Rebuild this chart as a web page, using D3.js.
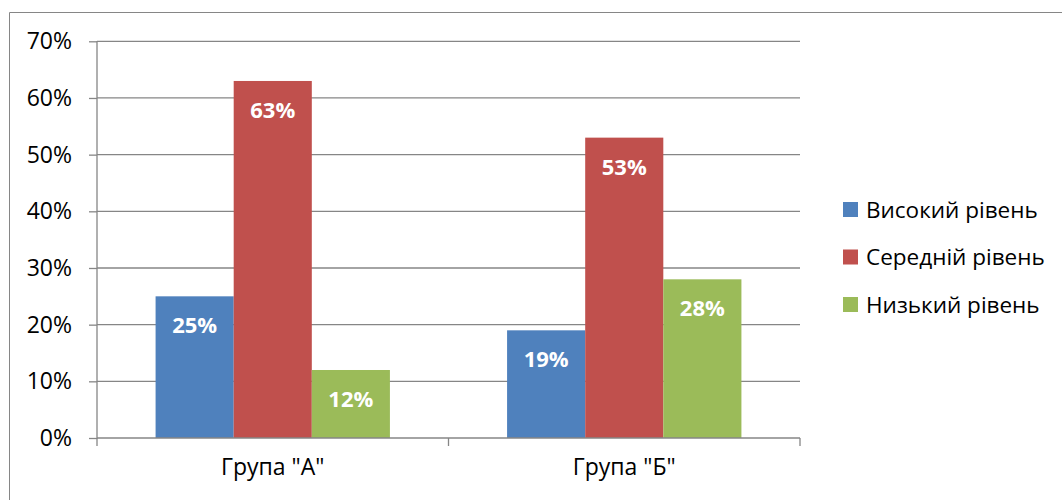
<!DOCTYPE html>
<html>
<head>
<meta charset="utf-8">
<script src="https://cdn.jsdelivr.net/npm/d3@7"></script>
<style>
  body { margin: 0; background: #fff; }
  svg { font-family: "Open Sans", "Noto Sans", sans-serif; }
</style>
</head>
<body>
<svg class="chart" width="1062" height="500"></svg>
<script>
var groups = ['Група "А"', 'Група "Б"'];
var seriesNames = ["Високий рівень", "Середній рівень", "Низький рівень"];
var seriesColors = ["#4F81BD", "#C0504D", "#9BBB59"];
var valuesHigh = [25, 19];
var valuesMid = [63, 53];
var valuesLow = [12, 28];
var yTicks = [0, 10, 20, 30, 40, 50, 60, 70];

var series = [valuesHigh, valuesMid, valuesLow];

var chart = d3.select("svg.chart"),
    plotLeft = 97, plotRight = 800, plotTop = 41.3, plotBottom = 438;

// outer chart border (only left and top visible)
chart.append("path")
  .attr("d", "M9.5,500V12.5H1062")
  .attr("fill", "none")
  .attr("stroke", "#868686")
  .attr("stroke-width", 1);

var yScale = d3.scaleLinear().domain([0, 70]).range([plotBottom, plotTop]);
var xScale = d3.scaleBand().domain(groups).range([plotLeft, plotRight]).paddingInner(0).paddingOuter(0);
var inner = d3.scaleBand().domain(d3.range(series.length))
  .range([0, xScale.bandwidth()]).paddingOuter(0.75).paddingInner(0);

// gridlines
chart.append("g")
  .selectAll("line")
  .data(yTicks.slice(1))
  .enter()
  .append("line")
  .attr("x1", plotLeft).attr("x2", plotRight)
  .attr("y1", function(d) { return yScale(d); })
  .attr("y2", function(d) { return yScale(d); })
  .attr("stroke", "#868686")
  .attr("stroke-width", 1.3);

// bars
series.forEach(function(vals, s) {
  chart.append("g")
    .selectAll("rect")
    .data(vals)
    .enter()
    .append("rect")
    .attr("x", function(d, i) { return xScale(groups[i]) + inner(s); })
    .attr("width", inner.bandwidth())
    .attr("y", function(d) { return yScale(d); })
    .attr("height", function(d) { return plotBottom - yScale(d); })
    .attr("fill", seriesColors[s]);

  chart.append("g")
    .selectAll("text")
    .data(vals)
    .enter()
    .append("text")
    .attr("x", function(d, i) { return xScale(groups[i]) + inner(s) + inner.bandwidth() / 2; })
    .attr("y", function(d) { return yScale(d) + 37; })
    .attr("text-anchor", "middle")
    .attr("fill", "#fff")
    .attr("font-weight", "bold")
    .attr("font-size", 22)
    .text(function(d) { return d + "%"; });
});

// y axis
var yAxis = d3.axisLeft(yScale).tickValues(yTicks).tickSize(8).tickPadding(17)
  .tickFormat(function(d) { return d + "%"; });
var yG = chart.append("g").attr("transform", "translate(" + plotLeft + ",0)").call(yAxis);
yG.select(".domain").remove();
yG.append("line").attr("x1", 0).attr("x2", 0).attr("y1", plotTop).attr("y2", plotBottom + 0.5)
  .attr("stroke", "#868686").attr("stroke-width", 1.3);
yG.selectAll(".tick line").attr("stroke", "#868686").attr("stroke-width", 1.3);
yG.selectAll(".tick text").attr("font-size", 23).attr("fill", "#000")
  .attr("font-family", "'Open Sans', sans-serif");

// x axis
var xAxis = d3.axisBottom(xScale).tickSize(0).tickPadding(21);
var xG = chart.append("g").attr("transform", "translate(0," + plotBottom + ")").call(xAxis);
xG.select(".domain").remove();
xG.append("line").attr("x1", plotLeft).attr("x2", plotRight).attr("y1", 0).attr("y2", 0)
  .attr("stroke", "#868686").attr("stroke-width", 1.3);
xG.selectAll(".sep")
  .data([plotLeft, plotLeft + xScale.bandwidth(), plotRight])
  .enter()
  .append("line")
  .attr("x1", function(d) { return d; }).attr("x2", function(d) { return d; })
  .attr("y1", 0).attr("y2", 8)
  .attr("stroke", "#868686").attr("stroke-width", 1.3);
xG.selectAll(".tick text").attr("font-size", 23).attr("fill", "#000")
  .attr("font-family", "'Open Sans', sans-serif");

// legend
var legend = chart.append("g").attr("transform", "translate(843,202)")
  .selectAll("g")
  .data(seriesNames)
  .enter()
  .append("g")
  .attr("transform", function(d, i) { return "translate(0," + (i * 47.5) + ")"; });
legend.append("rect").attr("width", 15).attr("height", 15)
  .attr("fill", function(d, i) { return seriesColors[i]; });
legend.append("text").attr("x", 23).attr("y", 8).attr("dy", "0.35em")
  .attr("font-size", 22.5).attr("fill", "#000")
  .text(function(d) { return d; });
</script>
</body>
</html>
